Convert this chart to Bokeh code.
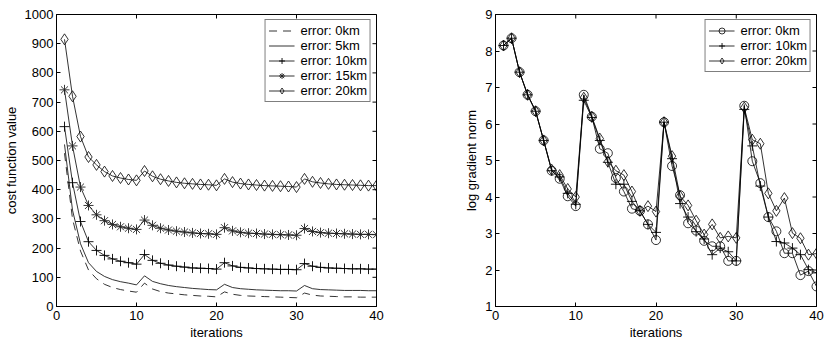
import math
from bokeh.plotting import figure
from bokeh.models import FixedTicker, Legend, LegendItem, Range1d
from bokeh.layouts import row
from bokeh.embed import file_html
from bokeh.resources import INLINE

iterations = list(range(1, 41))

# left panel: cost function value
cost_0km = [525, 300, 190, 125, 95, 76, 65, 58, 53, 49,
            80, 60, 51, 46, 43, 40, 38, 36, 35, 33,
            50, 42, 38, 36, 35, 34, 33, 32, 31, 30,
            46, 39, 36, 35, 34, 33, 33, 32, 32, 32]
cost_5km = [555, 330, 215, 150, 120, 103, 92, 85, 80, 74,
            105, 86, 78, 72, 68, 65, 62, 60, 58, 57,
            76, 65, 61, 59, 57, 56, 55, 54, 54, 53,
            72, 61, 58, 57, 56, 55, 55, 55, 54, 54]
cost_10km = [616, 424, 291, 222, 192, 175, 163, 155, 150, 145,
             178, 158, 148, 142, 138, 135, 132, 131, 130, 128,
             150, 139, 134, 132, 130, 129, 128, 127, 127, 126,
             147, 138, 134, 132, 131, 130, 129, 129, 128, 128]
cost_15km = [742, 550, 409, 346, 314, 294, 281, 273, 268, 264,
             296, 278, 268, 262, 258, 255, 252, 250, 249, 247,
             270, 259, 254, 251, 250, 248, 247, 246, 245, 244,
             267, 257, 253, 251, 250, 249, 248, 247, 247, 246]
cost_20km = [915, 720, 582, 512, 485, 462, 447, 440, 435, 432,
             464, 446, 436, 430, 425, 422, 420, 418, 417, 415,
             437, 426, 421, 418, 416, 414, 413, 412, 411, 409,
             437, 427, 423, 420, 418, 417, 416, 415, 414, 414]

# right panel: log gradient norm
grad_0km = [8.15, 8.35, 7.42, 6.80, 6.35, 5.55, 4.72, 4.50, 4.02, 3.75,
            6.80, 6.20, 5.32, 5.20, 4.52, 4.15, 3.68, 3.62, 3.25, 2.82,
            6.05, 4.85, 4.05, 3.28, 3.08, 2.80, 2.65, 2.65, 2.25, 2.25,
            6.50, 4.98, 4.38, 3.45, 3.06, 2.46, 2.46, 1.86, 1.97, 1.55]
grad_10km = [8.15, 8.35, 7.42, 6.80, 6.35, 5.55, 4.72, 4.55, 4.10, 3.80,
             6.65, 6.18, 5.55, 4.95, 4.35, 4.35, 3.88, 3.62, 3.25, 3.03,
             6.05, 5.05, 3.82, 3.45, 3.05, 2.85, 2.42, 2.60, 2.50, 2.25,
             6.40, 5.40, 4.30, 3.45, 2.78, 2.74, 2.60, 2.42, 2.01, 1.92]
grad_20km = [8.15, 8.35, 7.42, 6.80, 6.35, 5.55, 4.75, 4.60, 4.22, 4.00,
             6.72, 6.20, 5.60, 4.97, 4.72, 4.60, 4.15, 3.62, 3.75, 3.60,
             6.05, 5.12, 4.02, 3.77, 3.35, 2.97, 3.25, 2.88, 2.92, 2.88,
             6.45, 5.57, 5.46, 4.10, 3.62, 3.97, 3.01, 2.87, 2.42, 2.45]

x_ticks = [0, 10, 20, 30, 40]
left_y_ticks = [0, 100, 200, 300, 400, 500, 600, 700, 800, 900, 1000]
right_y_ticks = [1, 2, 3, 4, 5, 6, 7, 8, 9]

FONT = "Liberation Sans"
FS = "13px"
LW = 0.8


def make_fig(y_ticks, y_label, frame_w, border_left, border_right):
    p = figure(frame_width=frame_w, frame_height=292,
               x_range=Range1d(x_ticks[0], x_ticks[-1]),
               y_range=Range1d(y_ticks[0], y_ticks[-1]),
               output_backend="svg", toolbar_location=None,
               min_border_left=border_left, min_border_right=border_right,
               min_border_top=14, min_border_bottom=37,
               background_fill_color="white", border_fill_color="white")
    p.grid.visible = False
    p.outline_line_color = "black"
    p.outline_line_width = 1
    for ax in (p.xaxis[0], p.yaxis[0]):
        ax.major_tick_in = 4
        ax.major_tick_out = 0
        ax.minor_tick_line_color = None
        ax.axis_line_color = "black"
        ax.major_tick_line_color = "black"
        ax.major_label_text_font = FONT
        ax.major_label_text_font_size = FS
        ax.major_label_text_color = "black"
        ax.axis_label_text_font = FONT
        ax.axis_label_text_font_size = FS
        ax.axis_label_text_font_style = "normal"
        ax.axis_label_text_color = "black"
    p.xaxis[0].ticker = FixedTicker(ticks=x_ticks)
    p.yaxis[0].ticker = FixedTicker(ticks=y_ticks)
    p.xaxis[0].axis_label = "iterations"
    p.xaxis[0].axis_label_standoff = 2
    p.xaxis[0].major_label_standoff = 4
    p.yaxis[0].axis_label = y_label
    p.yaxis[0].axis_label_standoff = 3
    p.yaxis[0].major_label_standoff = 3
    # mirrored inward ticks on top and right edges (clipped to the frame)
    p.scatter(x_ticks, [y_ticks[-1]] * len(x_ticks), marker="dash", angle=math.pi / 2,
              size=8, line_color="black", line_width=1)
    p.scatter([x_ticks[-1]] * len(y_ticks), y_ticks, marker="dash",
              size=8, line_color="black", line_width=1)
    return p


def style_legend(p, items):
    leg = Legend(items=items, location="top_right",
                 label_text_font=FONT, label_text_font_size=FS,
                 label_text_color="black", glyph_width=26, glyph_height=15,
                 label_height=15, spacing=0, padding=3, margin=5,
                 border_line_color="black", border_line_width=1,
                 background_fill_color="white", background_fill_alpha=1,
                 label_standoff=6)
    p.add_layout(leg)


DIAMOND = dict(marker="diamond", size=11, line_color="black",
               fill_color=None, line_width=0.8)

# ---------------- left panel ----------------
p1 = make_fig(left_y_ticks, "cost function value", 320, 49, 31)
r0 = p1.line(iterations, cost_0km, line_color="black", line_width=LW, line_dash="8 6")
r5 = p1.line(iterations, cost_5km, line_color="black", line_width=LW)
r10 = p1.line(iterations, cost_10km, line_color="black", line_width=LW)
m10 = p1.scatter(iterations, cost_10km, marker="cross", size=10, line_color="black",
                 fill_color=None, line_width=0.9)
r15 = p1.line(iterations, cost_15km, line_color="black", line_width=LW)
m15 = p1.scatter(iterations, cost_15km, marker="asterisk", size=10, line_color="#222222",
                 fill_color=None, line_width=0.9)
r20 = p1.line(iterations, cost_20km, line_color="black", line_width=LW)
m20 = p1.scatter(iterations, cost_20km, **DIAMOND)
style_legend(p1, [
    LegendItem(label="error: 0km", renderers=[r0]),
    LegendItem(label="error: 5km", renderers=[r5]),
    LegendItem(label="error: 10km", renderers=[r10, m10]),
    LegendItem(label="error: 15km", renderers=[r15, m15]),
    LegendItem(label="error: 20km", renderers=[r20, m20]),
])

# ---------------- right panel ----------------
p2 = make_fig(right_y_ticks, "log gradient norm", 321, 88, 13)
g0 = p2.line(iterations, grad_0km, line_color="black", line_width=LW)
n0 = p2.scatter(iterations, grad_0km, marker="circle", size=9, line_color="black",
                fill_color=None, line_width=0.8)
g10 = p2.line(iterations, grad_10km, line_color="black", line_width=LW)
n10 = p2.scatter(iterations, grad_10km, marker="cross", size=10, line_color="black",
                 fill_color=None, line_width=0.9)
g20 = p2.line(iterations, grad_20km, line_color="black", line_width=LW)
n20 = p2.scatter(iterations, grad_20km, **DIAMOND)
style_legend(p2, [
    LegendItem(label="error: 0km", renderers=[g0, n0]),
    LegendItem(label="error: 10km", renderers=[g10, n10]),
    LegendItem(label="error: 20km", renderers=[g20, n20]),
])

layout = row(p1, p2)
open("out.html", "w").write(file_html(layout, INLINE))
